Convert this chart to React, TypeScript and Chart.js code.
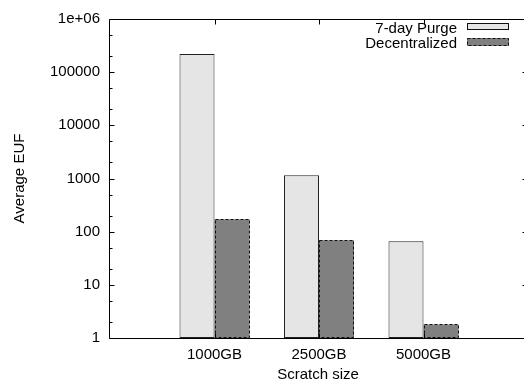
import React, { useEffect, useRef } from "react";
import { Chart, registerables } from "chart.js";

Chart.register(...registerables);

const categories = ["1000GB", "2500GB", "5000GB"];
const purgeValues = [220000, 1150, 66];
const decentralizedValues = [172, 69, 1.8];
const seriesNames = ["7-day Purge", "Decentralized"];
const yMajorTicks = [1, 10, 100, 1000, 10000, 100000, 1000000];
const yTickLabels = ["1", "10", "100", "1000", "10000", "100000", "1e+06"];
const yMinorTicks = [2, 5, 20, 50, 200, 500, 2000, 5000, 20000, 50000, 200000, 500000];
const xTitle = "Scratch size";
const yTitle = "Average EUF";

const FONT = "'Liberation Sans', Arial, Helvetica, sans-serif";
const PURGE_FILL = "rgb(229,229,229)";
const DEC_FILL = "rgb(128,128,128)";
const CANVAS_W = 530;
const CANVAS_H = 383;

const gnuplotPlugin = {
  id: "gnuplotFrame",
  afterDatasetsDraw(chart: any) {
    const ctx = chart.ctx;
    const { left, right, top, bottom } = chart.chartArea;
    const L = Math.round(left) - 0.5;
    const R = Math.round(right) - 0.5;
    const T = Math.round(top) + 0.5;
    const B = Math.round(bottom) + 0.5;
    const yScale = chart.scales.y;
    const xScale = chart.scales.x;

    // dashed outline of the decentralized bars
    const meta = chart.getDatasetMeta(1);
    ctx.save();
    ctx.strokeStyle = "#111";
    ctx.lineWidth = 1;
    ctx.setLineDash([3, 2]);
    meta.data.forEach((bar: any) => {
      const p = bar.getProps(["x", "y", "base", "width"], true);
      const x0 = Math.round(p.x - p.width / 2) + 0.5;
      const x1 = Math.round(p.x + p.width / 2) - 0.5;
      const y0 = Math.round(p.y) + 0.5;
      const y1 = Math.round(p.base) - 0.5;
      ctx.strokeRect(x0, y0, x1 - x0, y1 - y0);
    });
    ctx.restore();

    // frame (right border falls outside the visible window)
    ctx.save();
    ctx.strokeStyle = "#000";
    ctx.lineWidth = 1;
    ctx.beginPath();
    ctx.moveTo(R, T);
    ctx.lineTo(L, T);
    ctx.lineTo(L, B);
    ctx.lineTo(R, B);
    ctx.stroke();

    ctx.beginPath();
    yMajorTicks.forEach((v) => {
      const y = Math.round(yScale.getPixelForValue(v)) + 0.5;
      ctx.moveTo(L, y);
      ctx.lineTo(L + 5, y);
      ctx.moveTo(R, y);
      ctx.lineTo(R - 5, y);
    });
    yMinorTicks.forEach((v) => {
      const y = Math.round(yScale.getPixelForValue(v)) + 0.5;
      ctx.moveTo(L, y);
      ctx.lineTo(L + 3, y);
      ctx.moveTo(R, y);
      ctx.lineTo(R - 3, y);
    });
    categories.forEach((_, i) => {
      const x = Math.round(xScale.getPixelForValue(i)) + 0.5;
      ctx.moveTo(x, B);
      ctx.lineTo(x, B - 5);
      ctx.moveTo(x, T);
      ctx.lineTo(x, T + 5);
    });
    ctx.stroke();

    // axis titles
    ctx.fillStyle = "#000";
    ctx.font = `15px ${FONT}`;
    ctx.textAlign = "center";
    ctx.textBaseline = "alphabetic";
    ctx.fillText(xTitle, 318, 379);
    ctx.save();
    ctx.translate(23.5, (top + bottom) / 2);
    ctx.rotate(-Math.PI / 2);
    ctx.fillText(yTitle, 0, 0);
    ctx.restore();

    // legend
    const textRight = 457;
    const sx0 = 467;
    const sx1 = 509;
    const rows = [
      { base: 33, y0: 23, y1: 30, fill: PURGE_FILL, dash: [] as number[] },
      { base: 48, y0: 38, y1: 46, fill: DEC_FILL, dash: [3, 2] },
    ];
    ctx.textAlign = "right";
    rows.forEach((r, i) => {
      ctx.fillStyle = "#000";
      ctx.fillText(seriesNames[i], textRight, r.base);
      ctx.fillStyle = r.fill;
      ctx.fillRect(sx0, r.y0, sx1 - sx0, r.y1 - r.y0);
      ctx.setLineDash(r.dash);
      ctx.strokeStyle = "#111";
      ctx.strokeRect(sx0 + 0.5, r.y0 + 0.5, sx1 - sx0 - 1, r.y1 - r.y0 - 1);
      ctx.setLineDash([]);
    });
    ctx.restore();
  },
};

export default function App() {
  const canvasRef = useRef<HTMLCanvasElement | null>(null);

  useEffect(() => {
    if (!canvasRef.current) return;
    Chart.defaults.font.family = FONT;
    const chart = new Chart(canvasRef.current, {
      type: "bar",
      data: {
        datasets: [
          {
            label: seriesNames[0],
            data: purgeValues.map((v, i) => ({ x: i, y: v })),
            backgroundColor: PURGE_FILL,
            borderColor: "#222",
            borderWidth: 1,
            borderSkipped: false,
          },
          {
            label: seriesNames[1],
            data: decentralizedValues.map((v, i) => ({ x: i, y: v })),
            backgroundColor: DEC_FILL,
            borderWidth: 0,
          },
        ],
      } as any,
      options: {
        animation: false,
        responsive: false,
        devicePixelRatio: 1,
        layout: { padding: { top: 14, right: 2, left: 0, bottom: 0 } },
        plugins: { legend: { display: false }, tooltip: { enabled: false } },
        datasets: { bar: { categoryPercentage: 0.67, barPercentage: 1 } },
        scales: {
          x: {
            type: "linear",
            min: -1,
            max: 3,
            offset: false,
            grid: { display: false, drawTicks: false, offset: false },
            border: { display: false },
            afterBuildTicks: (scale: any) => {
              scale.ticks = categories.map((_, i) => ({ value: i }));
            },
            afterFit: (scale: any) => {
              scale.height = 45;
            },
            ticks: {
              color: "#000",
              font: { size: 15, family: FONT },
              padding: 8,
              maxRotation: 0,
              autoSkip: false,
              callback: (v: any) => categories[v] ?? "",
            },
          },
          y: {
            type: "logarithmic",
            min: 1,
            max: 1000000,
            grid: { display: false, drawTicks: false },
            border: { display: false },
            afterBuildTicks: (scale: any) => {
              scale.ticks = yMajorTicks.map((v) => ({ value: v }));
            },
            afterFit: (scale: any) => {
              scale.width = 110;
            },
            ticks: {
              color: "#000",
              font: { size: 15, family: FONT },
              padding: 10,
              autoSkip: false,
              callback: (v: any) => {
                const idx = yMajorTicks.indexOf(Number(v));
                return idx >= 0 ? yTickLabels[idx] : "";
              },
            },
          },
        },
      } as any,
      plugins: [gnuplotPlugin],
    });
    return () => chart.destroy();
  }, []);

  return (
    <div
      style={{
        position: "fixed",
        left: 0,
        top: 0,
        width: 524,
        height: 383,
        overflow: "hidden",
        background: "#fff",
      }}
    >
      <div style={{ position: "absolute", left: 0, top: 0, width: CANVAS_W, height: CANVAS_H }}>
        <canvas
          ref={canvasRef}
          width={CANVAS_W}
          height={CANVAS_H}
          style={{ display: "block", width: CANVAS_W, height: CANVAS_H }}
        />
      </div>
    </div>
  );
}
